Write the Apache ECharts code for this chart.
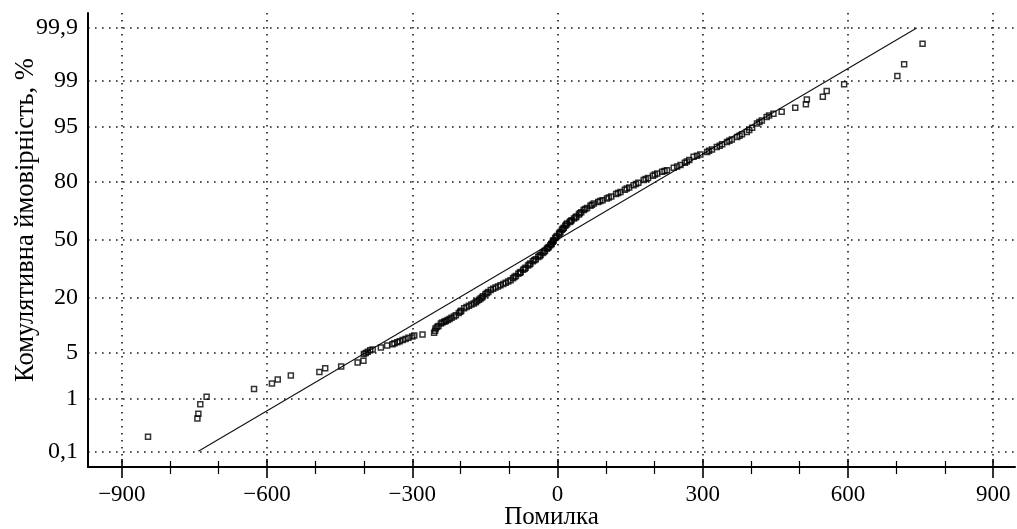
<!DOCTYPE html>
<html>
<head>
<meta charset="utf-8">
<script src="https://cdn.jsdelivr.net/npm/echarts@6/dist/echarts.min.js"></script>
<style>html,body{margin:0;padding:0;background:#fff}#c{width:1017px;height:529px}</style>
</head>
<body>
<div id="c"></div>
<script>
// ---- data ----
const xTickValues = [-900, -600, -300, 0, 300, 600, 900];
const xMinorTicks = [-800, -700, -500, -400, -200, -100, 100, 200, 400, 500, 700, 800];
const yTickProbs = [0.1, 1, 5, 20, 50, 80, 95, 99, 99.9];
const yTickLabels = ['0,1', '1', '5', '20', '50', '80', '95', '99', '99,9'];
const xAxisTitle = 'Помилка';
const yAxisTitle = 'Комулятивна ймовірність, %';

// observed errors and cumulative probability (%)
const errX = [
  -846, -744, -742, -738, -725, -627, -590, -578, -551, -492, -480, -447, -413, -401,
  -400, -392, -382, -365, -352, -341, -331, -320, -308, -296, -279, -255, -253, -252,
  -246, -241, -234, -227, -219, -210, -204, -199, -193, -183, -173, -166, -159,
  -154, -149, -143, -138, -128, -118, -107, -97, -92, -86, -81, -76,
  -71, -66, -61, -56, -51, -45, -40, -35, -31, -26, -22, -18,
  -15, -12, -10, -8, -5, -1, 3, 6, 9, 13, 16, 20, 25, 29, 34,
  39, 44, 49, 54, 61, 68, 75, 84, 93, 102, 111, 121, 130,
  139, 148, 157, 167, 178, 187, 197, 206, 216, 226, 240, 254,
  263, 272, 281, 295, 309, 319, 329, 340, 350, 360, 371, 381, 391,
  402, 412, 422, 432, 446,
  463, 491, 513, 515, 548, 556, 592, 702, 716, 754,
  -396, -387, -337, -326, -314, -300, -249, -238, -231, -223, -214, -201, -188, -178,
  -169, -162, -156, -146, -133, -123, -112, -102, -89, -78, -68, -58, -48, -37, -28,
  -20, -13, -9, -3, 4, 11, 18, 27, 37, 46, 57, 71, 88, 106, 125, 143, 162, 182, 201,
  221, 247, 267, 288, 313, 335, 355, 376, 396, 417, 437
];
const cumProb = [
  0.20, 0.45, 0.55, 0.81, 1.09, 1.46, 1.79, 2.06, 2.37, 2.66, 3.03, 3.21, 3.65, 3.84,
  4.73, 5.10, 5.45, 5.78, 6.10, 6.35, 6.70, 7.12, 7.60, 8.06, 8.32, 8.68, 9.20, 9.75,
  10.4, 11.07, 11.5, 12.0, 12.7, 13.5, 14.2, 15.0, 15.8, 16.7, 17.6, 18.5, 19.5,
  20.4, 21.3, 22.2, 23.1, 24.2, 25.3, 26.5, 27.7, 28.7, 29.8, 30.9, 31.9,
  33.0, 34.1, 35.3, 36.4, 37.6, 38.8, 40.0, 41.1, 42.3, 43.5, 44.7, 45.8,
  46.8, 47.8, 48.8, 49.7, 50.9, 52.1, 53.3, 54.5, 55.7, 56.9, 58.1, 59.3, 60.2, 61.1, 62.1,
  63.2, 64.4, 65.5, 66.7, 67.8, 69.0, 70.1, 70.9, 71.8, 72.6, 73.6, 74.7, 75.7,
  76.7, 77.7, 78.7, 79.7, 80.8, 81.6, 82.5, 83.3, 83.9, 84.5, 85.3, 86.2,
  86.9, 87.8, 88.7, 89.3, 90.0, 90.6, 91.2, 91.8, 92.3, 92.8, 93.3, 93.8, 94.2,
  94.9, 95.5, 95.9, 96.35, 96.7,
  96.9, 97.3, 97.6, 97.97, 98.15, 98.51, 98.84, 99.16, 99.48, 99.79,
  4.9, 5.3, 6.5, 6.9, 7.35, 7.85, 10.1, 11.3, 11.75, 12.35, 13.1, 14.6, 16.25, 17.15,
  18.05, 19.0, 19.95, 21.75, 23.65, 24.75, 25.9, 27.1, 29.25, 31.4, 33.55, 35.85, 38.2, 40.55, 42.9,
  45.25, 47.3, 49.25, 51.5, 53.9, 56.3, 58.7, 60.65, 62.65, 64.95, 67.25, 69.55, 71.35, 73.1, 75.2, 77.2, 79.2, 81.2, 82.9,
  84.2, 85.75, 87.35, 89.0, 90.3, 91.5, 92.55, 93.55, 94.55, 95.7, 96.5
];
// fitted normal line end points
const fitX = [-742, 742];
const fitProb = [0.1, 99.9];

// ---- probability (normal-quantile) scale ----
function probit(p) {
  const a=[-3.969683028665376e+01,2.209460984245205e+02,-2.759285104469687e+02,1.383577518672690e+02,-3.066479806614716e+01,2.506628277459239e+00];
  const b=[-5.447609879822406e+01,1.615858368580409e+02,-1.556989798598866e+02,6.680131188771972e+01,-1.328068155288572e+01];
  const c=[-7.784894002430293e-03,-3.223964580411365e-01,-2.400758277161838e+00,-2.549732539343734e+00,4.374664141464968e+00,2.938163982698783e+00];
  const d=[7.784695709041462e-03,3.224671290700398e-01,2.445134137142996e+00,3.754408661907416e+00];
  const pl=0.02425, ph=1-pl;
  if (p < pl) { const q=Math.sqrt(-2*Math.log(p)); return (((((c[0]*q+c[1])*q+c[2])*q+c[3])*q+c[4])*q+c[5])/((((d[0]*q+d[1])*q+d[2])*q+d[3])*q+1); }
  if (p <= ph) { const q=p-0.5, r=q*q; return (((((a[0]*r+a[1])*r+a[2])*r+a[3])*r+a[4])*r+a[5])*q/(((((b[0]*r+b[1])*r+b[2])*r+b[3])*r+b[4])*r+1); }
  const q=Math.sqrt(-2*Math.log(1-p)); return -(((((c[0]*q+c[1])*q+c[2])*q+c[3])*q+c[4])*q+c[5])/((((d[0]*q+d[1])*q+d[2])*q+d[3])*q+1);
}
const zOf = pct => probit(pct / 100);
const yTickZ = yTickProbs.map(zOf);

const pts = errX.map((x, i) => [x, zOf(cumProb[i])]);
const fitPts = fitX.map((x, i) => [x, zOf(fitProb[i])]);

const FONT = "'Liberation Serif','Times New Roman',serif";
const dotted = { color: '#1a1a1a', width: 1.6, type: [1.6, 5.4] };
const XMIN = -970, XMAX = 945;

function xAx(extra) {
  return Object.assign({
    type: 'value', min: XMIN, max: XMAX, position: 'bottom', offset: 0,
    axisLine: { show: false, onZero: false }, axisLabel: { show: false }, splitLine: { show: false },
    axisTick: { show: false }
  }, extra);
}

const chart = echarts.init(document.getElementById('c'), null, { renderer: 'canvas' });
chart.setOption({
  animation: false,
  backgroundColor: '#fff',
  grid: { left: 88, right: 2, top: 13, bottom: 62, containLabel: false, outerBoundsMode: 'none' },
  xAxis: [
    xAx({
      name: xAxisTitle, nameLocation: 'middle', nameGap: 38, nameMoveOverlap: false,
      nameTextStyle: { fontFamily: FONT, fontSize: 25, color: '#000' },
      axisLine: { show: true, onZero: false, lineStyle: { color: '#000', width: 2 } },
      axisTick: { show: true, customValues: xTickValues, length: 11, lineStyle: { color: '#000', width: 1.6 } },
      axisLabel: { show: true, customValues: xTickValues, margin: 16, fontFamily: FONT, fontSize: 23, color: '#000',
        formatter: v => (v < 0 ? '\u2212' + (-v) : String(v)) },
      splitLine: { show: true, lineStyle: dotted }
    }),
    xAx({ axisTick: { show: true, inside: true, customValues: xTickValues, length: 8, lineStyle: { color: '#000', width: 1.6 } } }),
    xAx({ axisTick: { show: true, customValues: xMinorTicks, length: 7, lineStyle: { color: '#000', width: 1.2 } } }),
    xAx({ axisTick: { show: true, inside: true, customValues: xMinorTicks, length: 6, lineStyle: { color: '#000', width: 1.2 } } })
  ],
  yAxis: {
    type: 'value', min: -3.32, max: 3.31,
    name: yAxisTitle, nameLocation: 'middle', nameGap: 48, nameMoveOverlap: false,
    nameTextStyle: { fontFamily: FONT, fontSize: 26.5, color: '#000', padding: [0, 0, 0, 40] },
    axisLine: { show: true, onZero: false, lineStyle: { color: '#000', width: 2 } },
    axisTick: { show: false, customValues: yTickZ },
    axisLabel: { customValues: yTickZ, margin: 10, fontFamily: FONT, fontSize: 24, color: '#000',
      formatter: v => {
        let best = 0;
        yTickZ.forEach((z, i) => { if (Math.abs(z - v) < Math.abs(yTickZ[best] - v)) best = i; });
        return yTickLabels[best];
      } },
    splitLine: { show: true, lineStyle: dotted }
  },
  series: [
    {
      type: 'line', data: fitPts, xAxisIndex: 0, symbol: 'none',
      lineStyle: { color: '#111', width: 1.1 }, z: 2
    },
    {
      type: 'scatter', data: pts, xAxisIndex: 0, symbol: 'rect', symbolSize: 5,
      itemStyle: { color: 'rgba(255,255,255,0)', borderColor: '#000', borderWidth: 1.5 }, z: 3
    }
  ]
});
</script>
</body>
</html>
